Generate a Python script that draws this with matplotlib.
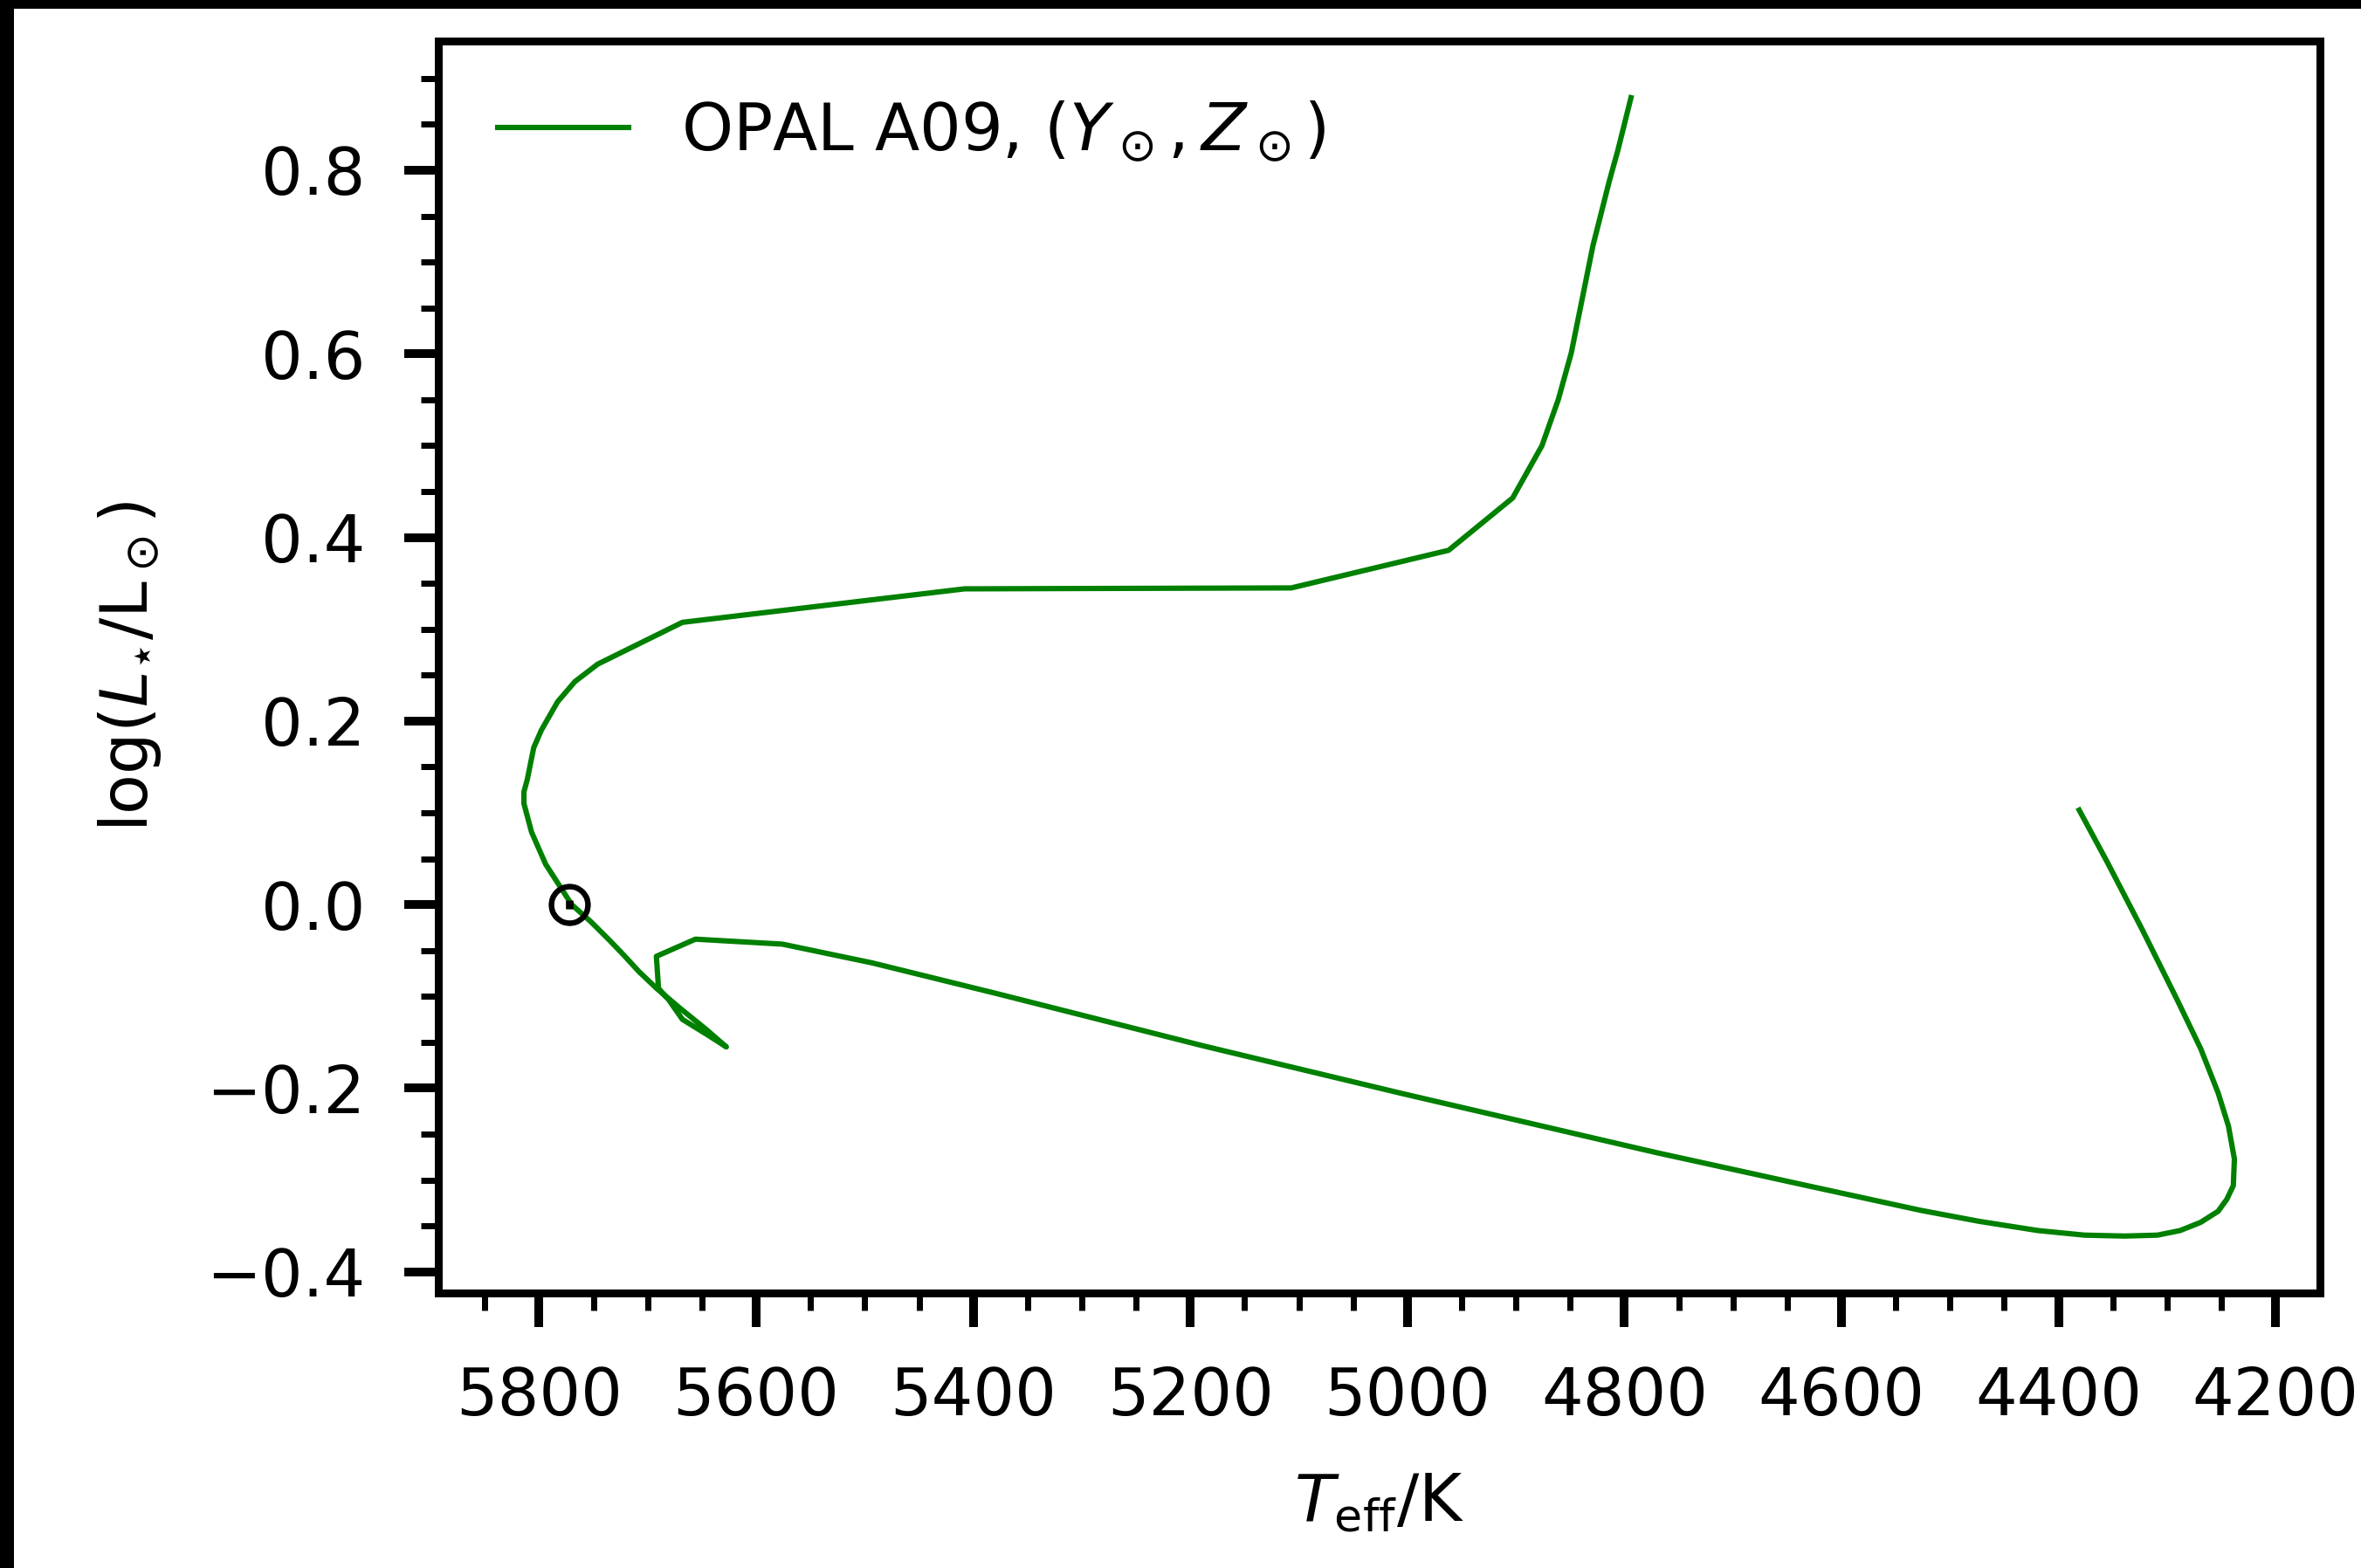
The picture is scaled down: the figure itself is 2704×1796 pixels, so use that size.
import matplotlib
matplotlib.use('Agg')
import matplotlib.pyplot as plt
from matplotlib.patches import Rectangle
from matplotlib.ticker import MultipleLocator

# evolutionary track, solar mass / solar composition (OPAL opacities, A09 mixture)
teff = [4381, 4355, 4323, 4291, 4269, 4253, 4243.5, 4238, 4239, 4245,
        4253, 4269, 4288, 4309, 4339, 4376, 4419, 4473, 4527, 4632,
        4771, 5004, 5187.5, 5378, 5493, 5576, 5656, 5692, 5690, 5681,
        5668, 5646, 5627.5, 5646, 5670, 5692, 5708, 5722, 5735, 5752,
        5770, 5794, 5807, 5814, 5814, 5811, 5805, 5798, 5783, 5767,
        5746, 5668, 5408, 5107, 4962, 4903, 4876, 4861, 4849, 4829,
        4814, 4806, 4794]
log_l = [0.103, 0.046, -0.027, -0.103, -0.157, -0.205, -0.241, -0.277, -0.306, -0.321,
         -0.334, -0.346, -0.355, -0.360, -0.361, -0.360, -0.355, -0.345, -0.333, -0.306,
         -0.270, -0.206, -0.154, -0.097, -0.0635, -0.043, -0.0376, -0.0563, -0.0913, -0.103,
         -0.125, -0.141, -0.155, -0.136, -0.113, -0.091, -0.073, -0.055, -0.039, -0.019,
         0.0, 0.044, 0.079, 0.110, 0.123, 0.136, 0.171, 0.190, 0.221, 0.243,
         0.262, 0.3075, 0.344, 0.345, 0.386, 0.443, 0.500, 0.550, 0.601, 0.718,
         0.788, 0.822, 0.879]

teff_sun = 5772
log_l_sun = 0.0

plt.rcParams['font.size'] = 13.5
plt.rcParams['mathtext.fontset'] = 'dejavusans'

fig = plt.figure(figsize=(6.76, 4.49), dpi=400)
ax = fig.add_axes([0.1857, 0.1754, 0.7969, 0.7986])

ax.plot(teff, log_l, color='green', lw=1.1, label=r'OPAL A09, $(Y_\odot, Z_\odot)$')
ax.plot(teff_sun, log_l_sun, marker=r'$\odot$', color='k', ms=8.5, mew=0.2, ls='none')

ax.invert_xaxis()
ax.set_xlabel(r'$T_\mathrm{eff}$/K', labelpad=8.6)
ax.set_ylabel(r'$\log(L_{\star}/\mathrm{L}_\odot)$', labelpad=9)

ax.xaxis.set_major_locator(MultipleLocator(200))
ax.xaxis.set_minor_locator(MultipleLocator(50))
ax.yaxis.set_major_locator(MultipleLocator(0.2))
ax.yaxis.set_minor_locator(MultipleLocator(0.05))
ax.tick_params(which='major', length=7, width=1.8, pad=8)
ax.tick_params(which='minor', length=3.6, width=1.26)
for sp in ax.spines.values():
    sp.set_linewidth(1.62)

ax.legend(loc='upper left', frameon=False)

# dark strip along the left and top edges
fig.add_artist(Rectangle((0, 0), 16 / 2704, 1, transform=fig.transFigure, color='k', lw=0))
fig.add_artist(Rectangle((0, 1 - 10 / 1796), 1, 10 / 1796, transform=fig.transFigure, color='k', lw=0))

fig.savefig('out.png', dpi=400)
